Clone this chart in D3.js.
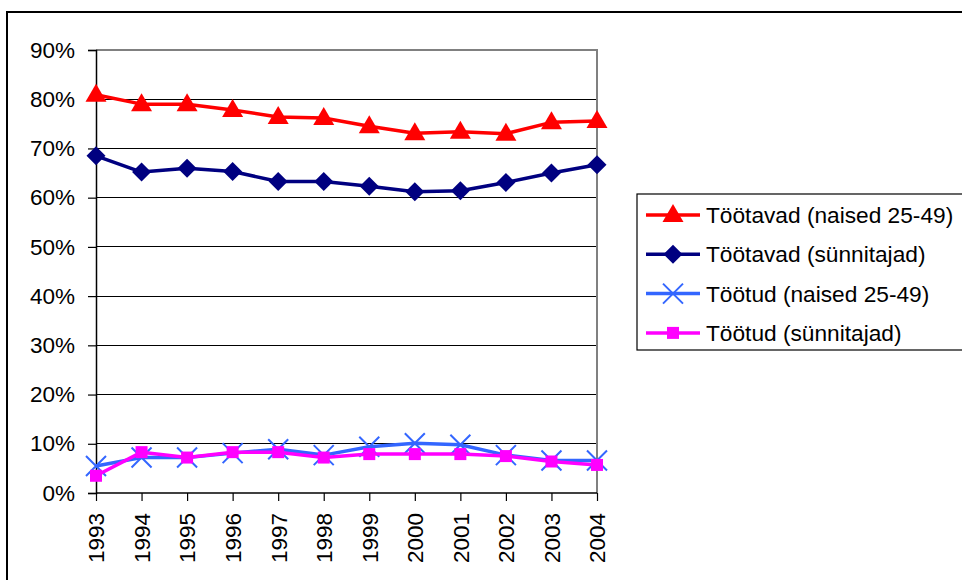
<!DOCTYPE html>
<html><head><meta charset="utf-8">
<script src="https://cdn.jsdelivr.net/npm/d3@7"></script>
<style>body{margin:0;background:#fff}svg{display:block}text{font-family:"Liberation Sans",Arial,sans-serif;fill:#000}</style>
</head><body><svg id="c" width="962" height="580"></svg>
<script>
const years = ["1993","1994","1995","1996","1997","1998","1999","2000","2001","2002","2003","2004"];
const tootavadNaised = [80.9,79.0,79.0,77.8,76.4,76.2,74.5,73.1,73.4,73.0,75.3,75.6];
const tootavadSunnitajad = [68.5,65.2,66.0,65.3,63.3,63.3,62.3,61.2,61.4,63.1,65.0,66.7];
const tootudNaised = [5.5,7.2,7.2,8.1,8.9,7.7,9.4,10.1,9.8,7.7,6.6,6.6];
const tootudSunnitajad = [3.5,8.3,7.2,8.3,8.3,7.2,7.9,7.9,7.9,7.5,6.4,5.7];
const yTicks = [0,10,20,30,40,50,60,70,80,90];
const seriesNames = ["Töötavad (naised 25-49)","Töötavad (sünnitajad)","Töötud (naised 25-49)","Töötud (sünnitajad)"];

const series = [
  {name:seriesNames[0], values:tootavadNaised, color:"#FF0000", marker:"triangle"},
  {name:seriesNames[1], values:tootavadSunnitajad, color:"#000080", marker:"diamond"},
  {name:seriesNames[2], values:tootudNaised, color:"#3366FF", marker:"x"},
  {name:seriesNames[3], values:tootudSunnitajad, color:"#FF00FF", marker:"square"}
];

const svg = d3.select("#c");
const L=96, R=597, T=50, B=493;
const x = d3.scalePoint().domain(years).range([L,R]);
const y = d3.scaleLinear().domain([0,90]).range([B,T]);

// outer border
svg.append("rect").attr("x",7).attr("y",12).attr("width",970).attr("height",600)
  .attr("fill","none").attr("stroke","#000").attr("stroke-width",2);

// gridlines
svg.append("g").selectAll("line").data(yTicks.filter(d=>d>0 && d<90)).join("line")
  .attr("x1",L).attr("x2",R).attr("y1",d=>y(d)).attr("y2",d=>y(d))
  .attr("stroke","#000").attr("stroke-width",1).attr("shape-rendering","crispEdges");
// plot border top/right gray
svg.append("path").attr("d",`M${L},${y(90)}H${R}V${B}`).attr("fill","none")
  .attr("stroke","#808080").attr("stroke-width",1.5).attr("shape-rendering","crispEdges");

// y axis
const yAxis = d3.axisLeft(y).tickValues(yTicks).tickSize(8).tickFormat(d=>d+"%");
const gy = svg.append("g").attr("transform",`translate(${L},0)`).call(yAxis);
gy.select(".domain").attr("stroke","#000").attr("stroke-width",1.5);
gy.selectAll(".tick line").attr("stroke","#000").attr("stroke-width",1.2);
gy.selectAll(".tick text").attr("x",-21).attr("font-size","22.5px").attr("fill","#000")
  .style("font-family","'Liberation Sans',Arial,sans-serif");

// x axis
const xAxis = d3.axisBottom(x).tickSize(8);
const gx = svg.append("g").attr("transform",`translate(0,${B})`).call(xAxis);
gx.select(".domain").attr("stroke","#000").attr("stroke-width",1.5).attr("d",`M${L},0H${R}`);
gx.selectAll(".tick line").attr("stroke","#000").attr("stroke-width",1.2);
gx.selectAll(".tick text").attr("font-size","22.5px").attr("fill","#000")
  .style("font-family","'Liberation Sans',Arial,sans-serif")
  .attr("transform","rotate(-90)").attr("text-anchor","end")
  .attr("x",-20).attr("y",0).attr("dy","0.35em");

function drawMarker(g, type, color, cx, cy){
  if(type==="triangle"){
    g.append("path").attr("d",`M${cx},${cy-11}L${cx+10.5},${cy+7}L${cx-10.5},${cy+7}Z`).attr("fill",color);
  } else if(type==="diamond"){
    g.append("path").attr("d",`M${cx},${cy-9.5}L${cx+9.5},${cy}L${cx},${cy+9.5}L${cx-9.5},${cy}Z`).attr("fill",color);
  } else if(type==="x"){
    g.append("path").attr("d",`M${cx-10},${cy-10}L${cx+10},${cy+10}M${cx-10},${cy+10}L${cx+10},${cy-10}`)
      .attr("stroke",color).attr("stroke-width",2).attr("fill","none");
  } else if(type==="square"){
    g.append("rect").attr("x",cx-6).attr("y",cy-6).attr("width",12).attr("height",12).attr("fill",color);
  }
}

const line = d3.line().x((d,i)=>x(years[i])).y(d=>y(d));
series.forEach(s=>{
  const g = svg.append("g");
  g.append("path").attr("d",line(s.values)).attr("fill","none").attr("stroke",s.color)
    .attr("stroke-width",3.5).attr("stroke-linejoin","round");
  s.values.forEach((v,i)=>drawMarker(g,s.marker,s.color,x(years[i]),y(v)));
});

// legend
const lg = svg.append("g");
lg.append("rect").attr("x",637).attr("y",194).attr("width",330).attr("height",156)
  .attr("fill","#fff").attr("stroke","#000").attr("stroke-width",1.2);
series.forEach((s,i)=>{
  const cy = 215 + i*39.3;
  lg.append("line").attr("x1",646).attr("x2",700).attr("y1",cy).attr("y2",cy)
    .attr("stroke",s.color).attr("stroke-width",3.5);
  drawMarker(lg,s.marker,s.color,673,cy);
  lg.append("text").attr("x",706).attr("y",cy).attr("dy","0.35em").attr("font-size","22.7px").text(s.name);
});
</script></body></html>
